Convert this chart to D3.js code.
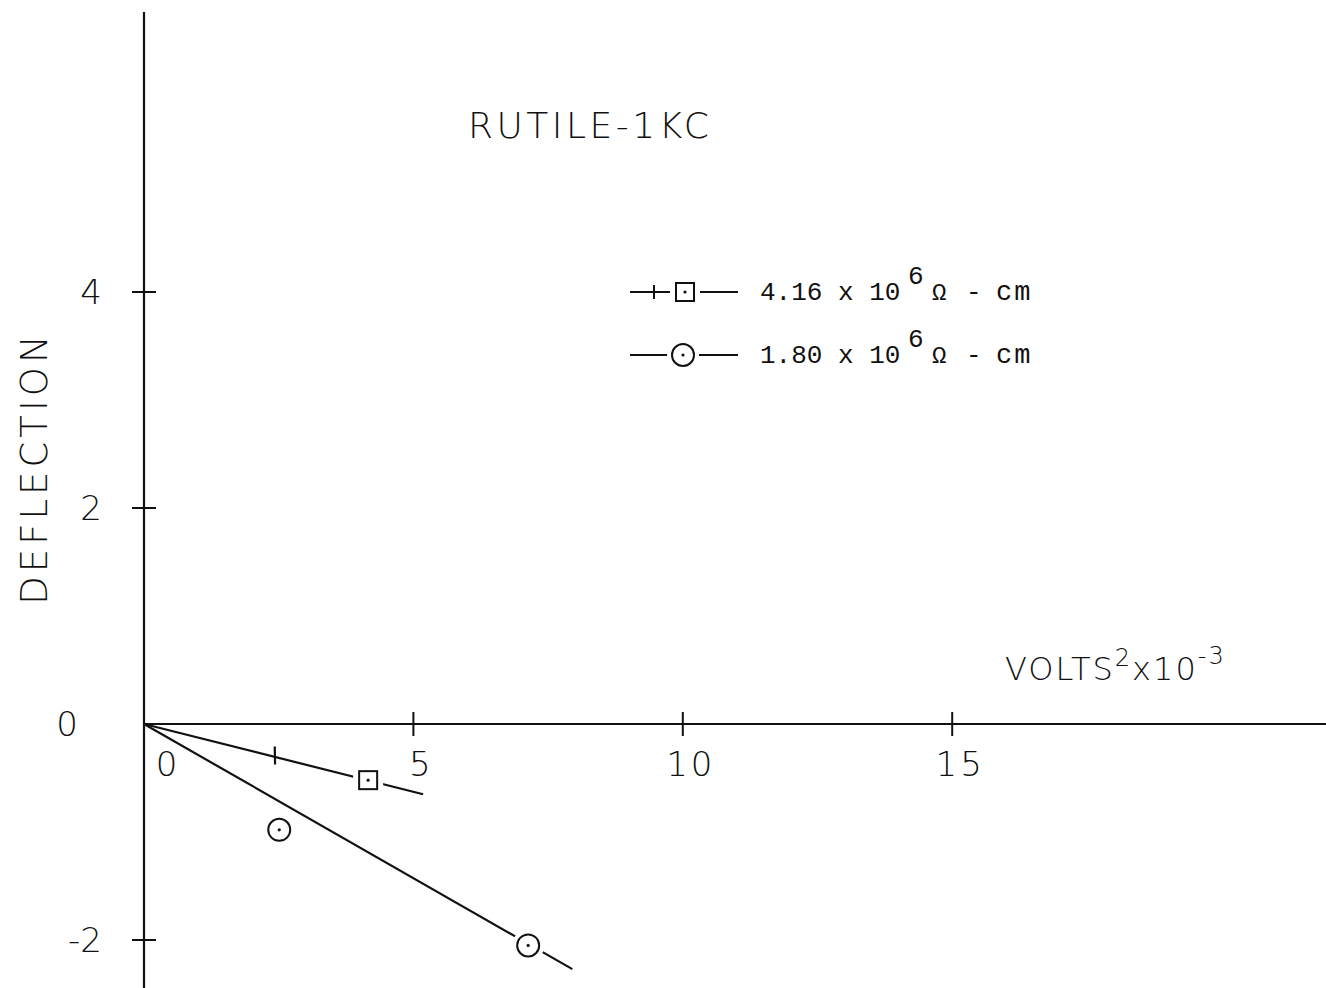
<!DOCTYPE html>
<html>
<head>
<meta charset="utf-8">
<script src="https://cdn.jsdelivr.net/npm/d3@7"></script>
<style>
  html, body { margin: 0; padding: 0; background: #fff; }
  svg { display: block; }
  .lettering { font-family: "DejaVu Sans", "Liberation Sans", sans-serif; font-weight: 200; fill: #111; }
  .typed { font-family: "Liberation Mono", "DejaVu Sans Mono", monospace; fill: #111; }
</style>
</head>
<body>
<script>
// Deflection vs. volts² (×10⁻³) for rutile at 1 kc
const xTicks = [0, 5, 10, 15];
const yTicks = [-2, 0, 2, 4];

// 4.16 × 10⁶ Ω-cm sample: measured points and fitted line ends
const seriesAX = [2.43, 4.16];
const seriesAY = [-0.30, -0.52];
const fitAX = [0, 5.18];
const fitAY = [0, -0.65];

// 1.80 × 10⁶ Ω-cm sample
const seriesBX = [2.51, 7.13];
const seriesBY = [-0.98, -2.05];
const fitBX = [0, 7.95];
const fitBY = [0, -2.27];

const legendLabels = ["4.16", "1.80"];

const W = 1326, H = 988;
const svg = d3.select("body").append("svg").attr("width", W).attr("height", H);

const x = d3.scaleLinear().domain([0, 5]).range([144, 413.4]);
const y = d3.scaleLinear().domain([0, 4]).range([724, 292]);

const ink = "#111";

// axes
svg.append("line").attr("x1", x(0)).attr("x2", W).attr("y1", y(0)).attr("y2", y(0))
  .attr("stroke", ink).attr("stroke-width", 2);
svg.append("line").attr("x1", x(0)).attr("x2", x(0)).attr("y1", 12).attr("y2", H)
  .attr("stroke", ink).attr("stroke-width", 2.2);

// x ticks (cross the axis)
svg.selectAll(".xt").data(xTicks.filter(d => d > 0)).join("line")
  .attr("x1", d => x(d)).attr("x2", d => x(d))
  .attr("y1", y(0) - 12).attr("y2", y(0) + 12)
  .attr("stroke", ink).attr("stroke-width", 2);
svg.selectAll(".xl").data(xTicks).join("text")
  .attr("class", "lettering")
  .attr("x", d => x(d) + (d === 0 ? 24 : 8))
  .attr("y", y(0) + 52)
  .attr("text-anchor", "middle")
  .attr("font-size", 34)
  .attr("letter-spacing", 3)
  .text(d => d);

// y ticks
svg.selectAll(".yt").data(yTicks.filter(d => d !== 0)).join("line")
  .attr("x1", x(0) - 12).attr("x2", x(0) + 12)
  .attr("y1", d => y(d)).attr("y2", d => y(d))
  .attr("stroke", ink).attr("stroke-width", 2);
svg.selectAll(".yl").data(yTicks).join("text")
  .attr("class", "lettering")
  .attr("x", d => d === 0 ? 78 : 102)
  .attr("y", d => y(d) + 12)
  .attr("text-anchor", "end")
  .attr("font-size", 34)
  .text(d => d);

// titles
svg.append("text").attr("class", "lettering")
  .attr("x", 468).attr("y", 138).attr("font-size", 36)
  .attr("letter-spacing", 3.5)
  .text("RUTILE-1KC");

svg.append("text").attr("class", "lettering")
  .attr("transform", "translate(47,468) rotate(-90)")
  .attr("text-anchor", "middle").attr("font-size", 37)
  .attr("letter-spacing", 4)
  .text("DEFLECTION");

const xl = svg.append("text").attr("class", "lettering")
  .attr("x", 1005).attr("y", 680).attr("font-size", 32).attr("letter-spacing", 2);
xl.append("tspan").text("VOLTS");
xl.append("tspan").attr("dy", -14).attr("font-size", 24).text("2");
xl.append("tspan").attr("dy", 14).text("x10");
xl.append("tspan").attr("dy", -16).attr("font-size", 24).text("-3");

// fitted lines
const line = d3.line().x(d => x(d[0])).y(d => y(d[1]));
const plot = svg.append("g");
plot.append("path").datum(d3.zip(fitAX, fitAY)).attr("d", line)
  .attr("fill", "none").attr("stroke", ink).attr("stroke-width", 2.2);
plot.append("path").datum(d3.zip(fitBX, fitBY)).attr("d", line)
  .attr("fill", "none").attr("stroke", ink).attr("stroke-width", 2.2);

// series A markers: a cross tick on the line, then a dotted square
const ang = Math.atan2(y(fitAY[1]) - y(0), x(fitAX[1]) - x(0)) * 180 / Math.PI;
plot.append("line")
  .attr("transform", `translate(${x(seriesAX[0])},${y(seriesAY[0])}) rotate(${ang + 90 - 15})`)
  .attr("x1", -10).attr("x2", 8).attr("y1", 0).attr("y2", 0)
  .attr("stroke", ink).attr("stroke-width", 2.2);

function squareMark(g, cx, cy) {
  g.append("rect").attr("x", cx - 15).attr("y", cy - 15).attr("width", 30).attr("height", 30)
    .attr("fill", "#fff");
  g.append("rect").attr("x", cx - 9).attr("y", cy - 9).attr("width", 18).attr("height", 18)
    .attr("fill", "#fff").attr("stroke", ink).attr("stroke-width", 2);
  g.append("circle").attr("cx", cx).attr("cy", cy).attr("r", 1.6).attr("fill", ink);
}
function circleMark(g, cx, cy) {
  g.append("circle").attr("cx", cx).attr("cy", cy).attr("r", 16).attr("fill", "#fff");
  g.append("circle").attr("cx", cx).attr("cy", cy).attr("r", 11)
    .attr("fill", "#fff").attr("stroke", ink).attr("stroke-width", 2);
  g.append("circle").attr("cx", cx).attr("cy", cy).attr("r", 1.6).attr("fill", ink);
}

squareMark(plot, x(seriesAX[1]), y(seriesAY[1]));
seriesBX.forEach((v, i) => circleMark(plot, x(v), y(seriesBY[i])));

// legend
const lg = svg.append("g");
const rows = [292, 355];
// row 1: line with cross tick and square
lg.append("line").attr("x1", 630).attr("x2", 738).attr("y1", rows[0]).attr("y2", rows[0])
  .attr("stroke", ink).attr("stroke-width", 2);
lg.append("line").attr("x1", 654).attr("x2", 654).attr("y1", rows[0] - 7).attr("y2", rows[0] + 7)
  .attr("stroke", ink).attr("stroke-width", 2);
squareMark(lg, 685, rows[0]);
// row 2: line with circle
lg.append("line").attr("x1", 630).attr("x2", 738).attr("y1", rows[1]).attr("y2", rows[1])
  .attr("stroke", ink).attr("stroke-width", 2);
circleMark(lg, 683, rows[1]);

legendLabels.forEach((lab, i) => {
  const base = rows[i] + 8;
  const t = lg.append("text").attr("class", "typed")
    .attr("x", 760).attr("y", base).attr("font-size", 26);
  t.append("tspan").text(lab + " x 10");
  t.append("tspan").attr("x", 908).attr("y", base - 16).text("6");
  t.append("tspan").attr("x", 932).attr("y", base).attr("font-size", 24).text("Ω");
  t.append("tspan").attr("x", 966).text("-");
  t.append("tspan").attr("x", 996).attr("font-size", 27).attr("letter-spacing", 2).text("cm");
});
</script>
</body>
</html>
